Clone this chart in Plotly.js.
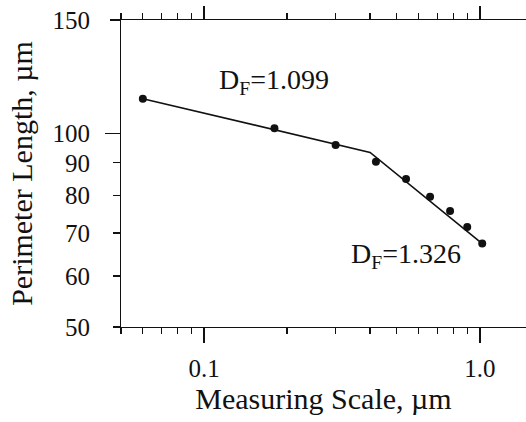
<!DOCTYPE html>
<html>
<head>
<meta charset="utf-8">
<script src="https://cdn.plot.ly/plotly-3.0.1.min.js"></script>
<style>html,body{margin:0;padding:0;background:#fff;}#chart{width:526px;height:422px;}</style>
</head>
<body>
<div id="chart"></div>
<script>
// Measured data points
var scaleX = [0.06, 0.18, 0.30, 0.42, 0.54, 0.66, 0.78, 0.90, 1.02];
var perimeterY = [113.2, 101.8, 95.9, 90.3, 84.9, 79.7, 75.7, 71.5, 67.4];
// Fitted two-segment line
var fitX = [0.06, 0.40, 1.02];
var fitY = [113.2, 93.4, 67.4];
// Tick labels
var yTickVals = [50, 60, 70, 80, 90, 100, 150];
var yTickText = ['50', '60', '70', '80', '90', '100', '150'];
var xTickVals = [0.1, 1.0];
var xTickText = ['0.1', '1.0'];
var xMinorVals = [0.05, 0.06, 0.07, 0.08, 0.09, 0.2, 0.3, 0.4, 0.5, 0.6, 0.7, 0.8, 0.9];
var labels = ['D<sub>F</sub>=1.099', 'D<sub>F</sub>=1.326'];

var FONT = 'Liberation Serif, Times New Roman, serif';
var INK = '#111';
var xr = [Math.log10(0.05), Math.log10(1.47)];
var yr = [Math.log10(50), Math.log10(150)];
var LEFT = 90, AXIS = 121, W = 526;
var xStart = (AXIS - LEFT) / (W - LEFT);

// invisible copies of the data that only register the helper axes
function helper(xa, ya) {
  return {x: scaleX, y: perimeterY, type: 'scatter', mode: 'markers', xaxis: xa, yaxis: ya,
          marker: {color: INK, size: 8, opacity: 0}, hoverinfo: 'skip', showlegend: false};
}

var traces = [
  helper('x2', 'y3'),
  helper('x', 'y2'),
  {x: fitX, y: fitY, type: 'scatter', mode: 'lines', xaxis: 'x', yaxis: 'y',
   line: {color: INK, width: 1.6}, hoverinfo: 'skip', showlegend: false},
  {x: scaleX, y: perimeterY, type: 'scatter', mode: 'markers', xaxis: 'x', yaxis: 'y',
   marker: {color: INK, size: 8}, showlegend: false}
];

var minorX = function(len) {
  return {tickmode: 'array', tickvals: xMinorVals, ticks: 'outside', ticklen: len, tickwidth: 1.2, tickcolor: INK, showgrid: false};
};

var layout = {
  width: 526, height: 422,
  margin: {l: LEFT, r: 0, t: 20, b: 95},
  paper_bgcolor: '#fff', plot_bgcolor: '#fff',
  font: {family: FONT, color: INK, size: 24},
  showlegend: false,
  xaxis: {
    type: 'log', range: xr, autorange: false, domain: [xStart, 1],
    tickmode: 'array', tickvals: xTickVals, ticktext: xTickText,
    ticks: 'outside', ticklen: 15, tickwidth: 1.4, tickcolor: INK,
    ticklabelstandoff: 4,
    minor: minorX(6),
    showline: true, linecolor: INK, linewidth: 1.4, mirror: false,
    showgrid: false, zeroline: false,
    tickfont: {family: FONT, size: 25, color: INK},
    title: {text: 'Measuring Scale, µm', font: {family: FONT, size: 30, color: INK}, standoff: 4}
  },
  xaxis2: {
    type: 'log', range: xr, autorange: false, overlaying: 'x', side: 'top', anchor: 'y',
    tickmode: 'array', tickvals: xTickVals,
    ticks: 'outside', ticklen: 13, tickwidth: 1.4, tickcolor: INK,
    minor: minorX(6),
    showticklabels: false, showline: true, linecolor: INK, linewidth: 1.4,
    showgrid: false, zeroline: false
  },
  yaxis: {
    type: 'log', range: yr, autorange: false,
    tickmode: 'array', tickvals: yTickVals,
    ticks: 'outside', ticklen: 7, tickwidth: 1.4, tickcolor: INK,
    showticklabels: false,
    showline: true, linecolor: INK, linewidth: 1.4, mirror: false,
    showgrid: false, zeroline: false
  },
  yaxis2: {
    type: 'log', range: yr, autorange: false, overlaying: 'y', side: 'left', anchor: 'x',
    tickmode: 'array', tickvals: [100], ticks: 'outside', ticklen: 15, tickwidth: 1.4, tickcolor: INK,
    minor: {tickmode: 'array', tickvals: [150], ticks: 'outside', ticklen: 10, tickwidth: 1.4, tickcolor: INK, showgrid: false},
    showticklabels: false, showline: false, showgrid: false, zeroline: false
  },
  yaxis3: {
    type: 'log', range: yr, autorange: false, overlaying: 'y', side: 'left', anchor: 'free', position: 0,
    tickmode: 'array', tickvals: yTickVals, ticktext: yTickText, ticks: '',
    showline: false, showgrid: false, zeroline: false,
    tickfont: {family: FONT, size: 25, color: INK},
    title: {text: 'Perimeter Length, µm', font: {family: FONT, size: 30, color: INK}, standoff: 10}
  },
  annotations: [
    {text: labels[0], xref: 'paper', yref: 'paper', x: (217 - LEFT) / (W - LEFT), y: 0.80, xanchor: 'left', yanchor: 'middle',
     showarrow: false, font: {family: FONT, size: 28, color: INK}},
    {text: labels[1], xref: 'paper', yref: 'paper', x: (349 - LEFT) / (W - LEFT), y: 0.232, xanchor: 'left', yanchor: 'middle',
     showarrow: false, font: {family: FONT, size: 28, color: INK}}
  ]
};

Plotly.newPlot('chart', traces, layout, {displayModeBar: false, staticPlot: true});
</script>
</body>
</html>
